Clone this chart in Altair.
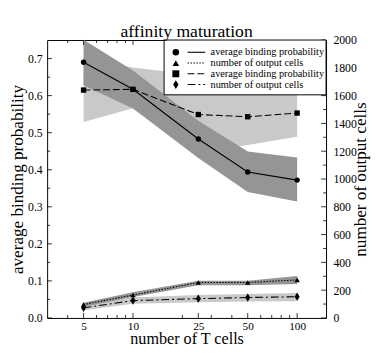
import altair as alt
import pandas as pd

# ---- data ----
t_cells = [5, 10, 25, 50, 100]

bind_circle = [0.690, 0.617, 0.483, 0.394, 0.372]
bind_circle_lo = [0.628, 0.565, 0.432, 0.340, 0.314]
bind_circle_hi = [0.751, 0.668, 0.532, 0.449, 0.433]

bind_square = [0.615, 0.617, 0.549, 0.543, 0.553]
bind_square_lo = [0.529, 0.566, 0.445, 0.467, 0.489]
bind_square_hi = [0.700, 0.676, 0.655, 0.640, 0.635]

cells_triangle = [97, 165, 255, 255, 274]
cells_triangle_lo = [80, 150, 236, 236, 245]
cells_triangle_hi = [110, 185, 268, 268, 302]

cells_diamond = [73, 125, 139, 147, 153]
cells_diamond_lo = [55, 102, 113, 118, 120]
cells_diamond_hi = [95, 148, 165, 172, 180]

x_major_ticks = [5, 10, 25, 50, 100]
x_minor_ticks = [4, 6, 7, 8, 9, 20, 30, 40, 60, 70, 80, 90]
left_major_ticks = [0.0, 0.1, 0.2, 0.3, 0.4, 0.5, 0.6, 0.7]
left_minor_ticks = [0.05, 0.15, 0.25, 0.35, 0.45, 0.55, 0.65]
right_major_ticks = [0, 200, 400, 600, 800, 1000, 1200, 1400, 1600, 1800, 2000]
right_minor_ticks = [100, 300, 500, 700, 900, 1100, 1300, 1500, 1700, 1900]

legend_labels = ["average binding probability", "number of output cells",
                 "average binding probability", "number of output cells"]

FONT = "Liberation Serif"
W, H = 285, 284
DARK = "#959595"
LIGHT = "#c9c9c9"
DIAMOND = "M0,-1L0.62,0L0,1L-0.62,0Z"

xscale = alt.Scale(type="log", domain=[3, 150], nice=False)
lscale = alt.Scale(domain=[0, 0.75], nice=False, zero=False)
rscale = alt.Scale(domain=[0, 2000], nice=False, zero=False)

xaxis = alt.Axis(values=x_major_ticks, format="d", grid=False, ticks=False, domain=False,
                 labelFont=FONT, labelFontSize=11.5, labelPadding=3, labelColor="black",
                 title="number of T cells", titleFont=FONT, titleFontSize=16.5,
                 titleFontWeight="normal", titleColor="black", titleBaseline="alphabetic",
                 titleY=26)
laxis = alt.Axis(values=left_major_ticks, format=".1f", grid=False, ticks=False, domain=False,
                 labelFont=FONT, labelFontSize=12, labelPadding=5, labelColor="black",
                 title="average binding probability", titleFont=FONT, titleFontSize=17.5,
                 titleFontWeight="normal", titleColor="black", titleAngle=270,
                 titleBaseline="alphabetic", titleX=-25.5, titleY=H / 2, titleAlign="center")
raxis = alt.Axis(orient="right", values=right_major_ticks, format="d", grid=False, ticks=False,
                 domain=False, labelFont=FONT, labelFontSize=12, labelPadding=7,
                 labelColor="black", title="number of output cells", titleFont=FONT,
                 titleFontSize=17.5, titleFontWeight="normal", titleColor="black",
                 titleAngle=270, titleBaseline="alphabetic", titleX=40.5, titleY=H / 2,
                 titleAlign="center")


def frame(t, m, lo, hi):
    return pd.DataFrame({"t": t, "m": m, "lo": lo, "hi": hi})


df_circle = frame(t_cells, bind_circle, bind_circle_lo, bind_circle_hi)
df_square = frame(t_cells, bind_square, bind_square_lo, bind_square_hi)
df_tri = frame(t_cells, cells_triangle, cells_triangle_lo, cells_triangle_hi)
df_dia = frame(t_cells, cells_diamond, cells_diamond_lo, cells_diamond_hi)

X = alt.X("t:Q", scale=xscale, axis=xaxis)


def series(df, scale, axis, band_color, dash, shape, size):
    band = alt.Chart(df).mark_area(color=band_color, opacity=1).encode(
        x=X, y=alt.Y("lo:Q", scale=scale, axis=axis), y2="hi:Q")
    lkw = dict(color="black", strokeWidth=1.1)
    if dash:
        lkw["strokeDash"] = dash
    line = alt.Chart(df).mark_line(**lkw).encode(
        x=X, y=alt.Y("m:Q", scale=scale, axis=axis))
    pts = alt.Chart(df).mark_point(filled=True, shape=shape, size=size, color="black",
                                   opacity=1).encode(
        x=X, y=alt.Y("m:Q", scale=scale, axis=axis))
    return band, line, pts


sq_band, sq_line, sq_pts = series(df_square, lscale, laxis, LIGHT, [7, 3], "square", 30)
ci_band, ci_line, ci_pts = series(df_circle, lscale, laxis, DARK, None, "circle", 30)
di_band, di_line, di_pts = series(df_dia, rscale, raxis, LIGHT, [8, 3, 2, 3], DIAMOND, 70)
tr_band, tr_line, tr_pts = series(df_tri, rscale, raxis, DARK, [1.5, 1.5], "triangle-up", 30)

# inward tick marks
xmaj = pd.DataFrame({"t": x_major_ticks})
xmin = pd.DataFrame({"t": x_minor_ticks})
lmaj = pd.DataFrame({"v": left_major_ticks})
lmin = pd.DataFrame({"v": left_minor_ticks})
rmaj = pd.DataFrame({"v": right_major_ticks})
rmin = pd.DataFrame({"v": right_minor_ticks})


def xticks(df, y0, y1):
    return alt.Chart(df).mark_rule(color="black", strokeWidth=0.8).encode(
        x=X, y=alt.value(y0), y2=alt.value(y1))


def yticks(df, scale, axis, x0, x1):
    return alt.Chart(df).mark_rule(color="black", strokeWidth=0.8).encode(
        y=alt.Y("v:Q", scale=scale, axis=axis), x=alt.value(x0), x2=alt.value(x1))


tick_layers_left = [
    xticks(xmaj, H, H - 5), xticks(xmin, H, H - 3),
    xticks(xmaj, 0, 5), xticks(xmin, 0, 3),
    yticks(lmaj, lscale, laxis, 0, 5), yticks(lmin, lscale, laxis, 0, 3),
]
tick_layers_right = [
    yticks(rmaj, rscale, raxis, W, W - 5), yticks(rmin, rscale, raxis, W, W - 3),
]

# legend box
one = pd.DataFrame({"k": [0]})
leg_box = alt.Chart(one).mark_rect(fill="white", stroke="black", strokeWidth=1).encode(
    x=alt.value(119.5), x2=alt.value(W), y=alt.value(0), y2=alt.value(56))
leg_shapes = ["circle", "triangle-up", "square", DIAMOND]
leg_sizes = [45, 45, 50, 80]
leg_dashes = [None, [1.5, 1.5], [7, 3], [8, 3, 2, 3]]
leg_rows = [12.5, 23.5, 34.5, 45.5]
legend_layers = [leg_box]
for lab, shp, sz, dsh, ry in zip(legend_labels, leg_shapes, leg_sizes, leg_dashes, leg_rows):
    legend_layers.append(alt.Chart(one).mark_point(filled=True, shape=shp, size=sz,
                                                   color="black", opacity=1).encode(
        x=alt.value(131.5), y=alt.value(ry)))
    rkw = dict(color="black", strokeWidth=1.1)
    if dsh:
        rkw["strokeDash"] = dsh
    legend_layers.append(alt.Chart(one).mark_rule(**rkw).encode(
        x=alt.value(143.5), x2=alt.value(161.5), y=alt.value(ry)))
    legend_layers.append(alt.Chart(one).mark_text(align="left", baseline="middle", font=FONT,
                                                  fontSize=10.5, color="black").encode(
        x=alt.value(167), y=alt.value(ry), text=alt.value(lab)))

left = alt.layer(sq_band, ci_band, sq_line, ci_line, sq_pts, ci_pts, *tick_layers_left)
right = alt.layer(di_band, tr_band, di_line, tr_line, di_pts, tr_pts, *tick_layers_right,
                  *legend_layers)

chart = alt.layer(left, right).resolve_scale(y="independent").properties(
    width=W, height=H,
    title=alt.TitleParams("affinity maturation", font=FONT, fontSize=18, fontWeight="normal",
                          baseline="alphabetic", offset=9, dy=30, anchor="middle",
                          frame="group", color="black"),
    autosize=alt.AutoSizeParams(type="none"),
    padding={"left": 40, "top": 29, "right": 49, "bottom": 29},
).configure_view(stroke="black", strokeWidth=1)

chart.save("out.html", embed_options={"renderer": "svg", "actions": False})
